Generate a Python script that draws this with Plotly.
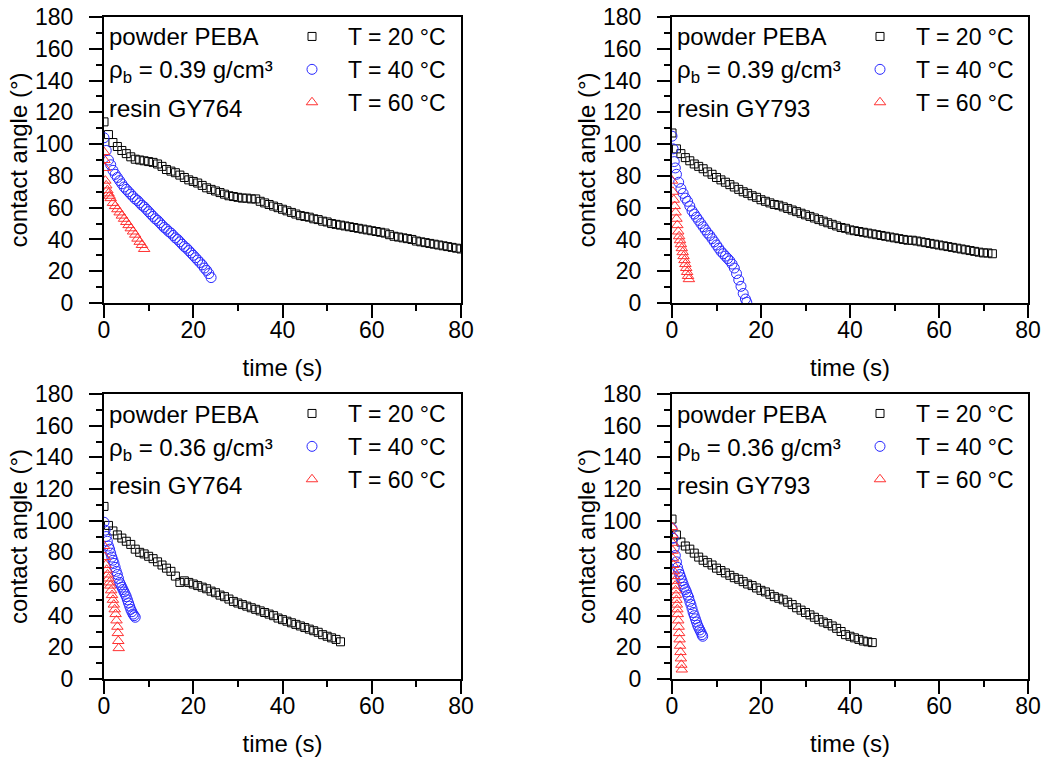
import plotly.graph_objects as go

# ---- data ----
# panel A: rho_b = 0.39, resin GY764
a_t20 = [0, 1, 2, 3, 4, 5, 6, 7, 8, 9, 10, 11, 12, 13, 14, 15, 16, 17, 18, 19,
         20, 21, 22, 23, 24, 25, 26, 27, 28, 29, 30, 31, 32, 33, 34, 35, 36, 37, 38, 39,
         40, 41, 42, 43, 44, 45, 46, 47, 48, 49, 50, 51, 52, 53, 54, 55, 56, 57, 58, 59,
         60, 61, 62, 63, 64, 65, 66, 67, 68, 69, 70, 71, 72, 73, 74, 75, 76, 77, 78, 79, 80]
a_v20 = [114, 106, 101, 98.5, 96, 94, 92, 90.5, 90, 89.5, 89, 88.5, 87.5, 86, 84, 83, 82, 80.5, 79, 77.5,
         76.5, 75.5, 74, 72.5, 71.5, 70.5, 69.5, 68.5, 67.5, 67, 66.5, 66, 66, 65.5, 65.5, 64, 63, 62, 61, 60,
         59, 58, 57, 56, 55, 54.5, 54, 53, 52.5, 51.5, 51, 50, 49.5, 49, 48.5, 48, 47.5, 47, 46.5, 46,
         45.5, 45, 44.5, 44, 43, 42, 41.5, 41, 40.5, 40, 39, 38.5, 38, 37.5, 37, 36.5, 36, 35.5, 35, 34.5, 34]
a_t40 = [0, 0.5, 1, 1.5, 2, 2.5, 3, 3.5, 4, 4.5, 5, 5.5, 6, 6.5, 7, 7.5, 8, 8.5, 9, 9.5,
         10, 10.5, 11, 11.5, 12, 12.5, 13, 13.5, 14, 14.5, 15, 15.5, 16, 16.5, 17, 17.5, 18, 18.5, 19, 19.5,
         20, 20.5, 21, 21.5, 22, 22.5, 23, 23.5, 24]
a_v40 = [104, 96, 90, 87, 83.5, 81, 79, 77, 75, 73, 71.5, 70, 68.5, 67, 65.5, 64.5, 63, 61.5, 60.5, 59,
         57.5, 56, 54.5, 53, 52, 50.5, 49, 47.5, 46.5, 45, 44, 42.5, 41, 40, 38.5, 37, 35.5, 34.5, 33, 31.5,
         30, 28.5, 27, 25.5, 24, 22, 20.5, 18.5, 16]
a_t60 = [0, 0.1, 0.2, 0.3, 0.5, 0.75, 1, 1.25, 1.5, 2, 2.5, 3, 3.5, 4, 4.5, 5, 5.5, 6, 6.5, 7, 7.5, 8, 8.5, 9]
a_v60 = [95, 90, 85, 77, 74, 71, 69, 67.5, 66, 63, 61, 59, 57, 55, 53, 51, 49, 47, 45, 43, 40.5, 38.5, 36.5, 34]

# panel B: rho_b = 0.39, resin GY793
b_t20 = [0, 1, 2, 3, 4, 5, 6, 7, 8, 9, 10, 11, 12, 13, 14, 15, 16, 17, 18, 19,
         20, 21, 22, 23, 24, 25, 26, 27, 28, 29, 30, 31, 32, 33, 34, 35, 36, 37, 38, 39,
         40, 41, 42, 43, 44, 45, 46, 47, 48, 49, 50, 51, 52, 53, 54, 55, 56, 57, 58, 59,
         60, 61, 62, 63, 64, 65, 66, 67, 68, 69, 70, 71, 72]
b_v20 = [107, 97, 94, 91.5, 89.5, 87.5, 86, 84.5, 82.5, 81, 79, 77.5, 76, 74.5, 73, 71.5, 70, 69, 67.5, 66.5,
         65, 64, 63, 62, 61.5, 60.5, 59.5, 58.5, 57.5, 56.5, 55.5, 54.5, 53.5, 52.5, 51.5, 50.5, 49.5, 48.5, 47.5, 47,
         46, 45.5, 45, 44.5, 44, 43.5, 43, 42.5, 42, 41.5, 41, 40.5, 40, 39.5, 39.5, 39, 38.5, 38, 37.5, 37,
         36.5, 36, 35.5, 35, 34.5, 34, 33.5, 33, 32.5, 32, 31.5, 31.5, 31]
b_t40 = [0, 0.25, 0.5, 0.75, 1, 1.5, 2, 2.5, 3, 3.5, 4, 4.5, 5, 5.5, 6, 6.5, 7, 7.5, 8, 8.5,
         9, 9.5, 10, 10.5, 11, 11.5, 12, 12.5, 13, 13.5, 14, 14.5, 15, 15.5, 16, 16.5, 16.8]
b_v40 = [105, 97, 89, 85, 81, 76, 72, 69, 66, 64, 61, 58, 56, 54, 52, 50, 48, 46, 44, 42.5,
         40.5, 38.5, 36.5, 34.5, 32.5, 31, 29.5, 28, 26.5, 24.5, 22, 18.5, 14.5, 10.5, 6, 2.5, 0.5]
b_t60 = [0, 0.2, 0.4, 0.6, 0.8, 1.0, 1.2, 1.4, 1.6, 1.8, 2.0, 2.2, 2.4, 2.6, 2.8, 3.0, 3.2, 3.4, 3.6, 3.8]
b_v60 = [77, 70, 65, 61, 57, 53, 49, 45, 42, 39.5, 37, 34.5, 32, 29.5, 27, 24.5, 22, 19.5, 17, 15]

# panel C: rho_b = 0.36, resin GY764
c_t20 = [0, 1, 2, 3, 4, 5, 6, 7, 8, 9, 10, 11, 12, 13, 14, 15, 16, 17, 18, 19,
         20, 21, 22, 23, 24, 25, 26, 27, 28, 29, 30, 31, 32, 33, 34, 35, 36, 37, 38, 39,
         40, 41, 42, 43, 44, 45, 46, 47, 48, 49, 50, 51, 52, 53]
c_v20 = [109, 97, 93.5, 91, 89, 87, 85, 82, 80, 79, 77.5, 76, 74, 72, 70, 68, 65, 61, 62, 61,
         60, 59, 58, 57, 55.5, 54.5, 53, 52, 50.5, 49, 48, 47, 46, 45, 44, 43, 42, 41, 40, 38.5,
         37.5, 36.5, 35.5, 34.5, 33.5, 32.5, 31.5, 30.5, 29.5, 28, 27, 26, 25, 23.5]
c_t40 = [0, 0.25, 0.5, 0.75, 1, 1.25, 1.5, 1.75, 2, 2.25, 2.5, 2.75, 3, 3.25, 3.5, 3.75, 4, 4.25, 4.5, 4.75,
         5, 5.25, 5.5, 5.75, 6, 6.25, 6.5, 6.75, 7]
c_v40 = [99, 94, 90, 87, 84, 82, 79.5, 77, 75, 73, 70.5, 68, 66, 63.5, 61, 59.5, 58, 56.5, 55, 53.5,
         52, 50, 48, 46, 44, 42.5, 41, 40, 39]
c_t60 = [0, 0.2, 0.4, 0.6, 0.8, 1.0, 1.2, 1.4, 1.6, 1.8, 2.0, 2.2, 2.4, 2.6, 2.8, 3.0, 3.1, 3.2, 3.3]
c_v60 = [84, 77, 72, 69, 66, 63.5, 61, 59, 56, 53, 50, 47, 44, 41, 37, 33, 29, 24, 19.5]

# panel D: rho_b = 0.36, resin GY793
d_t20 = [0, 1, 2, 3, 4, 5, 6, 7, 8, 9, 10, 11, 12, 13, 14, 15, 16, 17, 18, 19,
         20, 21, 22, 23, 24, 25, 26, 27, 28, 29, 30, 31, 32, 33, 34, 35, 36, 37, 38, 39,
         40, 41, 42, 43, 44, 45]
d_v20 = [101, 91, 86.5, 84, 82, 79.5, 77, 75, 73.5, 72, 70, 68.5, 67, 65.5, 64, 63, 61.5, 60, 59, 57.5,
         56, 55, 53.5, 52, 51, 50, 48.5, 47, 45, 43.5, 42, 40.5, 39, 37.5, 36, 35, 33.5, 32, 30, 28,
         27, 26, 25, 24, 23.5, 23]
d_t40 = [0, 0.25, 0.5, 0.75, 1, 1.25, 1.5, 1.75, 2, 2.25, 2.5, 2.75, 3, 3.25, 3.5, 3.75, 4, 4.25, 4.5, 4.75,
         5, 5.25, 5.5, 5.75, 6, 6.25, 6.5, 6.75, 6.9]
d_v40 = [95, 89, 83, 78, 74, 70.5, 68, 66, 64, 62, 60, 58, 56.5, 55, 53, 51.5, 49, 47, 44.5, 42,
         40, 38, 36, 34, 32.5, 31, 29.5, 28, 27]
d_t60 = [0, 0.05, 0.1, 0.15, 0.2, 0.3, 0.4, 0.5, 0.6, 0.7, 0.8, 0.9, 1.0, 1.1, 1.2, 1.3, 1.4, 1.5, 1.6, 1.7,
         1.8, 1.9, 2.0, 2.1, 2.2]
d_v60 = [96, 91, 86, 81, 76, 72, 68, 65, 62, 59, 56, 53, 50, 47, 44, 41, 37, 33, 29, 25,
         21, 17, 13, 9, 6]

densities = ['0.39', '0.39', '0.36', '0.36']
resins = ['GY764', 'GY793', 'GY764', 'GY793']
temps = ['T = 20 °C', 'T = 40 °C', 'T = 60 °C']

FONT = 'Liberation Sans, Arial, sans-serif'
W, H = 1045, 760

# plot boxes in screen pixels (left, right, top, bottom)
boxes = [(104, 461, 17, 303), (672, 1028, 17, 303),
         (104, 461, 394, 679), (672, 1028, 394, 679)]


def px(x):
    return x / W


def py(y):
    return 1 - y / H


def goScatter(x, y, name, symbol, size, color, legend):
    return go.Scatter(x=x, y=y, name=name, mode='markers',
                      marker=dict(symbol=symbol, size=size, color=color,
                                  line=dict(width=1, color=color)),
                      legend=legend, legendgroup=legend + name,
                      xaxis='x' + legend[6:], yaxis='y' + legend[6:])


def main():
    fig = go.Figure()
    panels = [(a_t20, a_v20, a_t40, a_v40, a_t60, a_v60),
              (b_t20, b_v20, b_t40, b_v40, b_t60, b_v60),
              (c_t20, c_v20, c_t40, c_v40, c_t60, c_v60),
              (d_t20, d_v20, d_t40, d_v40, d_t60, d_v60)]
    styles = [('square-open', 8, 'black'),
              ('circle-open', 10, 'rgb(40,40,255)'),
              ('triangle-up-open', 10, 'rgb(255,50,50)')]

    annotations = []
    for i, p in enumerate(panels):
        n = '' if i == 0 else str(i + 1)
        leg = 'legend' + n
        for k in range(3):
            sym, size, col = styles[k]
            fig.add_trace(goScatter(p[2 * k], p[2 * k + 1], temps[k], sym, size, col, leg))

        l, r, t, b = boxes[i]
        axis = dict(showline=True, linecolor='black', linewidth=2, mirror=True,
                    ticks='outside', tickwidth=2, tickcolor='black', ticklen=13,
                    showgrid=False, zeroline=False, automargin=False,
                    tickfont=dict(family=FONT, size=23, color='black'),
                    minor=dict(ticks='outside', ticklen=6, tickwidth=2, tickcolor='black'))
        fig.layout['xaxis' + n] = dict(axis, domain=[px(l), px(r)], range=[0, 80], dtick=20,
                                       minor_dtick=10, anchor='y' + n, ticklabelstandoff=-8,
                                       title=dict(text='time (s)', standoff=18,
                                                  font=dict(family=FONT, size=24, color='black')))
        fig.layout['yaxis' + n] = dict(axis, domain=[py(b), py(t)], range=[0, 180], dtick=20,
                                       minor_dtick=10, anchor='x' + n, ticklabelstandoff=11,
                                       title=dict(text='contact angle (°)', standoff=1,
                                                  font=dict(family=FONT, size=24, color='black')))
        fig.layout[leg] = dict(x=px(l + 172), y=py(t - 2), xanchor='left', yanchor='top',
                               bgcolor='rgba(0,0,0,0)', itemwidth=62, traceorder='grouped',
                               tracegroupgap=0,
                               font=dict(family=FONT, size=23, color='black'))

        lines = ['powder PEBA', 'ρ<sub>b</sub> = %s g/cm³' % densities[i], 'resin %s' % resins[i]]
        offs = [20, 55, 91]
        for txt, dy in zip(lines, offs):
            annotations.append(dict(text=txt, xref='paper', yref='paper', x=px(l + 3),
                                    y=py(t + dy), xanchor='left', yanchor='middle',
                                    showarrow=False,
                                    font=dict(family=FONT, size=24, color='black')))

    fig.update_layout(width=W, height=H, margin=dict(l=0, r=0, t=0, b=0),
                      plot_bgcolor='white', paper_bgcolor='white',
                      annotations=annotations, font=dict(family=FONT, size=22))
    # drop the default page margin so the figure fills the window exactly
    fig.write_html('out.html', config={'displayModeBar': False},
                   post_script="document.body.style.margin='0';")


if __name__ == '__main__':
    main()
